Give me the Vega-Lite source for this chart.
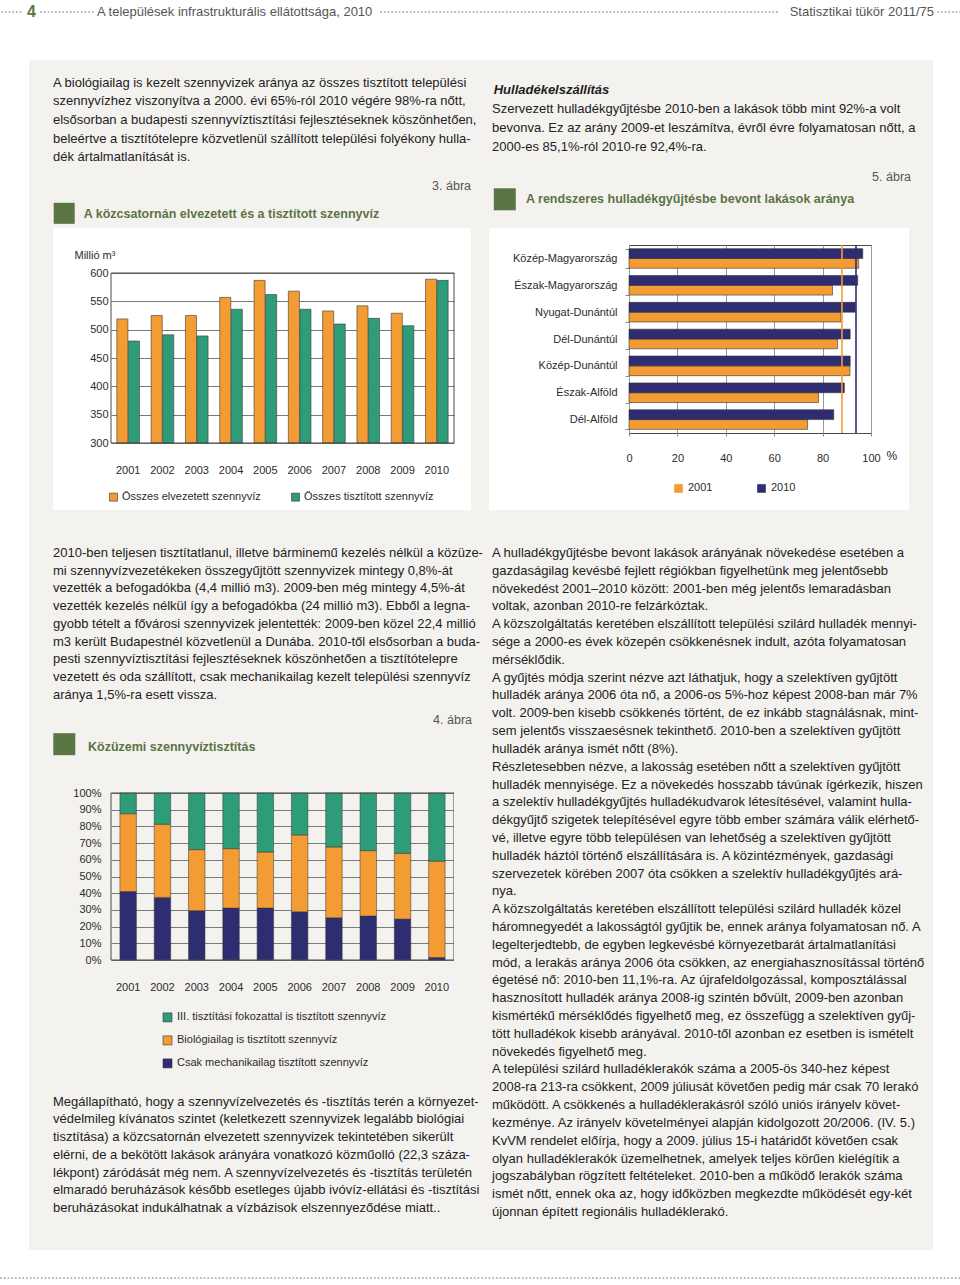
{
"$schema":"https://vega.github.io/schema/vega-lite/v6.json",
"background":"#ffffff",
"padding":0,
"autosize":{"type":"pad"},
"columns":11,
"align":"each",
"bounds":"flush",
"spacing":0,
"resolve":{"scale":{"color":"independent","xOffset":"independent","yOffset":"independent"}},
"datasets":{
"wastewater":[
{"year":"2001","series":"Összes elvezetett szennyvíz","value":519},{"year":"2001","series":"Összes tisztított szennyvíz","value":480},
{"year":"2002","series":"Összes elvezetett szennyvíz","value":525},{"year":"2002","series":"Összes tisztított szennyvíz","value":491},
{"year":"2003","series":"Összes elvezetett szennyvíz","value":525},{"year":"2003","series":"Összes tisztított szennyvíz","value":489},
{"year":"2004","series":"Összes elvezetett szennyvíz","value":557},{"year":"2004","series":"Összes tisztított szennyvíz","value":536},
{"year":"2005","series":"Összes elvezetett szennyvíz","value":587},{"year":"2005","series":"Összes tisztított szennyvíz","value":562},
{"year":"2006","series":"Összes elvezetett szennyvíz","value":568},{"year":"2006","series":"Összes tisztított szennyvíz","value":536},
{"year":"2007","series":"Összes elvezetett szennyvíz","value":533},{"year":"2007","series":"Összes tisztított szennyvíz","value":510},
{"year":"2008","series":"Összes elvezetett szennyvíz","value":542},{"year":"2008","series":"Összes tisztított szennyvíz","value":520},
{"year":"2009","series":"Összes elvezetett szennyvíz","value":529},{"year":"2009","series":"Összes tisztított szennyvíz","value":507},
{"year":"2010","series":"Összes elvezetett szennyvíz","value":589},{"year":"2010","series":"Összes tisztított szennyvíz","value":587}
],
"households":[
{"region":"Közép-Magyarország","year":"2001","value":94.9},{"region":"Közép-Magyarország","year":"2010","value":96.6},
{"region":"Észak-Magyarország","year":"2001","value":84.1},{"region":"Észak-Magyarország","year":"2010","value":94.5},
{"region":"Nyugat-Dunántúl","year":"2001","value":87.6},{"region":"Nyugat-Dunántúl","year":"2010","value":93.5},
{"region":"Dél-Dunántúl","year":"2001","value":86.2},{"region":"Dél-Dunántúl","year":"2010","value":91.4},
{"region":"Közép-Dunántúl","year":"2001","value":91.3},{"region":"Közép-Dunántúl","year":"2010","value":91.4},
{"region":"Észak-Alföld","year":"2001","value":78.3},{"region":"Észak-Alföld","year":"2010","value":89.0},
{"region":"Dél-Alföld","year":"2001","value":73.8},{"region":"Dél-Alföld","year":"2010","value":84.6}
],
"national":[{"year":"2001","value":88.0},{"year":"2010","value":93.8}],
"treatment":[
{"year":"2001","level":1,"type":"Csak mechanikailag tisztított szennyvíz","share":41.0},{"year":"2001","level":2,"type":"Biológiailag is tisztított szennyvíz","share":46.6},{"year":"2001","level":3,"type":"III. tisztítási fokozattal is tisztított szennyvíz","share":12.4},
{"year":"2002","level":1,"type":"Csak mechanikailag tisztított szennyvíz","share":37.5},{"year":"2002","level":2,"type":"Biológiailag is tisztított szennyvíz","share":43.8},{"year":"2002","level":3,"type":"III. tisztítási fokozattal is tisztított szennyvíz","share":18.7},
{"year":"2003","level":1,"type":"Csak mechanikailag tisztított szennyvíz","share":29.5},{"year":"2003","level":2,"type":"Biológiailag is tisztított szennyvíz","share":36.6},{"year":"2003","level":3,"type":"III. tisztítási fokozattal is tisztított szennyvíz","share":33.9},
{"year":"2004","level":1,"type":"Csak mechanikailag tisztított szennyvíz","share":31.1},{"year":"2004","level":2,"type":"Biológiailag is tisztított szennyvíz","share":35.6},{"year":"2004","level":3,"type":"III. tisztítási fokozattal is tisztított szennyvíz","share":33.3},
{"year":"2005","level":1,"type":"Csak mechanikailag tisztított szennyvíz","share":31.1},{"year":"2005","level":2,"type":"Biológiailag is tisztított szennyvíz","share":33.6},{"year":"2005","level":3,"type":"III. tisztítási fokozattal is tisztított szennyvíz","share":35.3},
{"year":"2006","level":1,"type":"Csak mechanikailag tisztított szennyvíz","share":28.9},{"year":"2006","level":2,"type":"Biológiailag is tisztított szennyvíz","share":46.0},{"year":"2006","level":3,"type":"III. tisztítási fokozattal is tisztított szennyvíz","share":25.1},
{"year":"2007","level":1,"type":"Csak mechanikailag tisztított szennyvíz","share":25.3},{"year":"2007","level":2,"type":"Biológiailag is tisztított szennyvíz","share":42.4},{"year":"2007","level":3,"type":"III. tisztítási fokozattal is tisztított szennyvíz","share":32.3},
{"year":"2008","level":1,"type":"Csak mechanikailag tisztított szennyvíz","share":26.3},{"year":"2008","level":2,"type":"Biológiailag is tisztított szennyvíz","share":39.2},{"year":"2008","level":3,"type":"III. tisztítási fokozattal is tisztított szennyvíz","share":34.5},
{"year":"2009","level":1,"type":"Csak mechanikailag tisztított szennyvíz","share":24.5},{"year":"2009","level":2,"type":"Biológiailag is tisztított szennyvíz","share":39.4},{"year":"2009","level":3,"type":"III. tisztítási fokozattal is tisztított szennyvíz","share":36.1},
{"year":"2010","level":1,"type":"Csak mechanikailag tisztított szennyvíz","share":1.5},{"year":"2010","level":2,"type":"Biológiailag is tisztított szennyvíz","share":57.7},{"year":"2010","level":3,"type":"III. tisztítási fokozattal is tisztított szennyvíz","share":40.8}
],
"p1":[
{"i":1,"t":"A biológiailag is kezelt szennyvizek aránya az összes tisztított települési"},
{"i":2,"t":"szennyvízhez viszonyítva a 2000. évi 65%-ról 2010 végére 98%-ra nőtt,"},
{"i":3,"t":"elsősorban a budapesti szennyvíztisztítási fejlesztéseknek köszönhetően,"},
{"i":4,"t":"beleértve a tisztítótelepre közvetlenül szállított települési folyékony hulla-"},
{"i":5,"t":"dék ártalmatlanítását is."}
],
"pr1":[
{"i":1,"t":"Szervezett hulladékgyűjtésbe 2010-ben a lakások több mint 92%-a volt"},
{"i":2,"t":"bevonva. Ez az arány 2009-et leszámítva, évről évre folyamatosan nőtt, a"},
{"i":3,"t":"2000-es 85,1%-ról 2010-re 92,4%-ra."}
],
"p2":[
{"i":1,"t":"2010-ben teljesen tisztítatlanul, illetve bárminemű kezelés nélkül a közüze-"},
{"i":2,"t":"mi szennyvízvezetékeken összegyűjtött szennyvizek mintegy 0,8%-át"},
{"i":3,"t":"vezették a befogadókba (4,4 millió m3). 2009-ben még mintegy 4,5%-át"},
{"i":4,"t":"vezették kezelés nélkül így a befogadókba (24 millió m3). Ebből a legna-"},
{"i":5,"t":"gyobb tételt a fővárosi szennyvizek jelentették: 2009-ben közel 22,4 millió"},
{"i":6,"t":"m3 került Budapestnél közvetlenül a Dunába. 2010-től elsősorban a buda-"},
{"i":7,"t":"pesti szennyvíztisztítási fejlesztéseknek köszönhetően a tisztítótelepre"},
{"i":8,"t":"vezetett és oda szállított, csak mechanikailag kezelt települési szennyvíz"},
{"i":9,"t":"aránya 1,5%-ra esett vissza."}
],
"p3":[
{"i":1,"t":"Megállapítható, hogy a szennyvízelvezetés és -tisztítás terén a környezet-"},
{"i":2,"t":"védelmileg kívánatos szintet (keletkezett szennyvizek legalább biológiai"},
{"i":3,"t":"tisztítása) a közcsatornán elvezetett szennyvizek tekintetében sikerült"},
{"i":4,"t":"elérni, de a bekötött lakások arányára vonatkozó közműolló (22,3 száza-"},
{"i":5,"t":"lékpont) záródását még nem. A szennyvízelvezetés és -tisztítás területén"},
{"i":6,"t":"elmaradó beruházások később esetleges újabb ivóvíz-ellátási és -tisztítási"},
{"i":7,"t":"beruházásokat indukálhatnak a vízbázisok elszennyeződése miatt.."}
],
"pr2":[
{"i":1,"t":"A hulladékgyűjtésbe bevont lakások arányának növekedése esetében a"},
{"i":2,"t":"gazdaságilag kevésbé fejlett régiókban figyelhetünk meg jelentősebb"},
{"i":3,"t":"növekedést 2001–2010 között: 2001-ben még jelentős lemaradásban"},
{"i":4,"t":"voltak, azonban 2010-re felzárkóztak."},
{"i":5,"t":"A közszolgáltatás keretében elszállított települési szilárd hulladék mennyi-"},
{"i":6,"t":"sége a 2000-es évek közepén csökkenésnek indult, azóta folyamatosan"},
{"i":7,"t":"mérséklődik."},
{"i":8,"t":"A gyűjtés módja szerint nézve azt láthatjuk, hogy a szelektíven gyűjtött"},
{"i":9,"t":"hulladék aránya 2006 óta nő, a 2006-os 5%-hoz képest 2008-ban már 7%"},
{"i":10,"t":"volt. 2009-ben kisebb csökkenés történt, de ez inkább stagnálásnak, mint-"},
{"i":11,"t":"sem jelentős visszaesésnek tekinthető. 2010-ben a szelektíven gyűjtött"},
{"i":12,"t":"hulladék aránya ismét nőtt (8%)."},
{"i":13,"t":"Részletesebben nézve, a lakosság esetében nőtt a szelektíven gyűjtött"},
{"i":14,"t":"hulladék mennyisége. Ez a növekedés hosszabb távúnak ígérkezik, hiszen"},
{"i":15,"t":"a szelektív hulladékgyűjtés hulladékudvarok létesítésével, valamint hulla-"},
{"i":16,"t":"dékgyűjtő szigetek telepítésével egyre több ember számára válik elérhető-"},
{"i":17,"t":"vé, illetve egyre több településen van lehetőség a szelektíven gyűjtött"},
{"i":18,"t":"hulladék háztól történő elszállítására is. A közintézmények, gazdasági"},
{"i":19,"t":"szervezetek körében 2007 óta csökken a szelektív hulladékgyűjtés ará-"},
{"i":20,"t":"nya."},
{"i":21,"t":"A közszolgáltatás keretében elszállított települési szilárd hulladék közel"},
{"i":22,"t":"háromnegyedét a lakosságtól gyűjtik be, ennek aránya folyamatosan nő. A"},
{"i":23,"t":"legelterjedtebb, de egyben legkevésbé környezetbarát ártalmatlanítási"},
{"i":24,"t":"mód, a lerakás aránya 2006 óta csökken, az energiahasznosítással történő"},
{"i":25,"t":"égetésé nő: 2010-ben 11,1%-ra. Az újrafeldolgozással, komposztálással"},
{"i":26,"t":"hasznosított hulladék aránya 2008-ig szintén bővült, 2009-ben azonban"},
{"i":27,"t":"kismértékű mérséklődés figyelhető meg, ez összefügg a szelektíven gyűj-"},
{"i":28,"t":"tött hulladékok kisebb arányával. 2010-től azonban ez esetben is ismételt"},
{"i":29,"t":"növekedés figyelhető meg."},
{"i":30,"t":"A települési szilárd hulladéklerakók száma a 2005-ös 340-hez képest"},
{"i":31,"t":"2008-ra 213-ra csökkent, 2009 júliusát követően pedig már csak 70 lerakó"},
{"i":32,"t":"működött. A csökkenés a hulladéklerakásról szóló uniós irányelv követ-"},
{"i":33,"t":"kezménye. Az irányelv követelményei alapján kidolgozott 20/2006. (IV. 5.)"},
{"i":34,"t":"KvVM rendelet előírja, hogy a 2009. július 15-i határidőt követően csak"},
{"i":35,"t":"olyan hulladéklerakók üzemelhetnek, amelyek teljes körűen kielégítik a"},
{"i":36,"t":"jogszabályban rögzített feltételeket. 2010-ben a működő lerakók száma"},
{"i":37,"t":"ismét nőtt, ennek oka az, hogy időközben megkezdte működését egy-két"},
{"i":38,"t":"újonnan épített regionális hulladéklerakó."}
]
},
"concat":[
{"width":28,"height":60,"data":{"values":[{}]},"mark":"text","encoding":{"text":{"value":""}}},
{"width":24,"height":60,"data":{"values":[{}]},"mark":"text","encoding":{"text":{"value":""}}},
{"width":58,"height":60,"data":{"values":[{}]},"mark":"text","encoding":{"text":{"value":""}}},
{"width":343,"height":60,"data":{"values":[{}]},"mark":"text","encoding":{"text":{"value":""}}},
{"width":17,"height":60,"data":{"values":[{}]},"mark":"text","encoding":{"text":{"value":""}}},
{"width":18,"height":60,"data":{"values":[{}]},"mark":"text","encoding":{"text":{"value":""}}},
{"width":140,"height":60,"data":{"values":[{}]},"mark":"text","encoding":{"text":{"value":""}}},
{"width":242,"height":60,"data":{"values":[{}]},"mark":"text","encoding":{"text":{"value":""}}},
{"width":38,"height":60,"data":{"values":[{}]},"mark":"text","encoding":{"text":{"value":""}}},
{"width":24,"height":60,"data":{"values":[{}]},"mark":"text","encoding":{"text":{"value":""}}},
{"width":28,"height":60,"data":{"values":[{"page":"4","running":"A települések infrastrukturális ellátottsága, 2010","issue":"Statisztikai tükör 2011/75"}]},"layer":[
 {"mark":{"type":"rule","color":"#b3b3b3","strokeWidth":2,"strokeDash":[0.1,3.6],"strokeCap":"round"},"encoding":{"x":{"datum":-931,"type":"quantitative","scale":{"domain":[0,28],"nice":false,"zero":false},"axis":null},"x2":{"datum":-910},"y":{"datum":12,"type":"quantitative","scale":{"domain":[0,60],"reverse":true,"nice":false,"zero":false},"axis":null}}},
 {"mark":{"type":"rule","color":"#b3b3b3","strokeWidth":2,"strokeDash":[0.1,3.6],"strokeCap":"round"},"encoding":{"x":{"datum":-892,"type":"quantitative","scale":{"domain":[0,28],"nice":false,"zero":false},"axis":null},"x2":{"datum":-840},"y":{"datum":12,"type":"quantitative","scale":{"domain":[0,60],"reverse":true,"nice":false,"zero":false},"axis":null}}},
 {"mark":{"type":"rule","color":"#b3b3b3","strokeWidth":2,"strokeDash":[0.1,3.6],"strokeCap":"round"},"encoding":{"x":{"datum":-552,"type":"quantitative","scale":{"domain":[0,28],"nice":false,"zero":false},"axis":null},"x2":{"datum":-154},"y":{"datum":12,"type":"quantitative","scale":{"domain":[0,60],"reverse":true,"nice":false,"zero":false},"axis":null}}},
 {"mark":{"type":"rule","color":"#b3b3b3","strokeWidth":2,"strokeDash":[0.1,3.6],"strokeCap":"round"},"encoding":{"x":{"datum":5,"type":"quantitative","scale":{"domain":[0,28],"nice":false,"zero":false},"axis":null},"x2":{"datum":28},"y":{"datum":12,"type":"quantitative","scale":{"domain":[0,60],"reverse":true,"nice":false,"zero":false},"axis":null}}},
 {"mark":{"type":"text","align":"left","baseline":"middle","font":"Liberation Sans","fontSize":16,"fontWeight":"bold","color":"#5b7443"},"encoding":{"x":{"datum":-906,"type":"quantitative","scale":{"domain":[0,28],"nice":false,"zero":false},"axis":null},"y":{"datum":12,"type":"quantitative","scale":{"domain":[0,60],"reverse":true,"nice":false,"zero":false},"axis":null},"text":{"field":"page"}}},
 {"mark":{"type":"text","align":"left","baseline":"middle","font":"Liberation Sans","fontSize":13,"color":"#555555"},"encoding":{"x":{"datum":-836,"type":"quantitative","scale":{"domain":[0,28],"nice":false,"zero":false},"axis":null},"y":{"datum":12,"type":"quantitative","scale":{"domain":[0,60],"reverse":true,"nice":false,"zero":false},"axis":null},"text":{"field":"running"}}},
 {"mark":{"type":"text","align":"right","baseline":"middle","font":"Liberation Sans","fontSize":13,"color":"#555555"},"encoding":{"x":{"datum":1,"type":"quantitative","scale":{"domain":[0,28],"nice":false,"zero":false},"axis":null},"y":{"datum":12,"type":"quantitative","scale":{"domain":[0,60],"reverse":true,"nice":false,"zero":false},"axis":null},"text":{"field":"issue"}}}
]},

{"width":28,"height":168,"data":{"values":[{}]},"mark":"text","encoding":{"text":{"value":""}}},
{"width":24,"height":168,"view":{"fill":"#f4f2ef"},"data":{"values":[{}]},"mark":"text","encoding":{"text":{"value":""}}},
{"width":58,"height":168,"view":{"fill":"#f4f2ef"},"data":{"values":[{}]},"mark":"text","encoding":{"text":{"value":""}}},
{"width":343,"height":168,"view":{"fill":"#f4f2ef"},"data":{"values":[{}]},"mark":"text","encoding":{"text":{"value":""}}},
{"width":17,"height":168,"view":{"fill":"#f4f2ef"},"data":{"values":[{}]},"mark":"text","encoding":{"text":{"value":""}}},
{"width":18,"height":168,"view":{"fill":"#f4f2ef"},"layer":[
 {"data":{"name":"p1"},"mark":{"type":"text","align":"left","baseline":"middle"},"encoding":{"x":{"datum":-418,"type":"quantitative","scale":{"domain":[0,18],"nice":false,"zero":false},"axis":null},"y":{"field":"i","type":"quantitative","scale":{"domain":[-0.2172,8.7908],"reverse":true,"nice":false,"zero":false},"axis":null},"text":{"field":"t"}}},
 {"data":{"values":[{"fig":"3. ábra"}]},"mark":{"type":"text","align":"right","baseline":"middle","font":"Liberation Sans","fontSize":12.5,"color":"#555555"},"encoding":{"x":{"datum":0,"type":"quantitative","scale":{"domain":[0,18],"nice":false,"zero":false},"axis":null},"y":{"datum":6.5388,"type":"quantitative","scale":{"domain":[-0.2172,8.7908],"reverse":true,"nice":false,"zero":false},"axis":null},"text":{"field":"fig"}}},
 {"data":{"values":[{}]},"mark":{"type":"square","size":441,"opacity":1,"color":"#5b7443"},"encoding":{"x":{"datum":-406.8,"type":"quantitative","scale":{"domain":[0,18],"nice":false,"zero":false},"axis":null},"y":{"datum":8.0026,"type":"quantitative","scale":{"domain":[-0.2172,8.7908],"reverse":true,"nice":false,"zero":false},"axis":null}}},
 {"data":{"values":[{"title":"A közcsatornán elvezetett és a tisztított szennyvíz"}]},"mark":{"type":"text","align":"left","baseline":"middle","font":"Liberation Sans","fontSize":12.5,"fontWeight":"bold","color":"#5b7443"},"encoding":{"x":{"datum":-387.3,"type":"quantitative","scale":{"domain":[0,18],"nice":false,"zero":false},"axis":null},"y":{"datum":8.0402,"type":"quantitative","scale":{"domain":[-0.2172,8.7908],"reverse":true,"nice":false,"zero":false},"axis":null},"text":{"field":"title"}}}
]},
{"width":140,"height":168,"view":{"fill":"#f4f2ef"},"data":{"values":[{}]},"mark":"text","encoding":{"text":{"value":""}}},
{"width":242,"height":168,"view":{"fill":"#f4f2ef"},"data":{"values":[{}]},"mark":"text","encoding":{"text":{"value":""}}},
{"width":38,"height":168,"view":{"fill":"#f4f2ef"},"data":{"values":[{}]},"mark":"text","encoding":{"text":{"value":""}}},
{"width":24,"height":168,"view":{"fill":"#f4f2ef"},"layer":[
 {"data":{"name":"pr1"},"mark":{"type":"text","align":"left","baseline":"middle"},"encoding":{"x":{"datum":-417,"type":"quantitative","scale":{"domain":[0,24],"nice":false,"zero":false},"axis":null},"y":{"field":"i","type":"quantitative","scale":{"domain":[-1.5947,7.2474],"reverse":true,"nice":false,"zero":false},"axis":null},"text":{"field":"t"}}},
 {"data":{"values":[{"t":"Hulladékelszállítás"}]},"mark":{"type":"text","align":"left","baseline":"middle","font":"Liberation Sans","fontSize":13,"fontWeight":"bold","fontStyle":"italic","color":"#1e1e1e"},"encoding":{"x":{"datum":-415.3,"type":"quantitative","scale":{"domain":[0,24],"nice":false,"zero":false},"axis":null},"y":{"datum":0,"type":"quantitative","scale":{"domain":[-1.5947,7.2474],"reverse":true,"nice":false,"zero":false},"axis":null},"text":{"field":"t"}}},
 {"data":{"values":[{"fig":"5. ábra"}]},"mark":{"type":"text","align":"right","baseline":"middle","font":"Liberation Sans","fontSize":12.5,"color":"#555555"},"encoding":{"x":{"datum":2,"type":"quantitative","scale":{"domain":[0,24],"nice":false,"zero":false},"axis":null},"y":{"datum":4.5474,"type":"quantitative","scale":{"domain":[-1.5947,7.2474],"reverse":true,"nice":false,"zero":false},"axis":null},"text":{"field":"fig"}}},
 {"data":{"values":[{}]},"mark":{"type":"square","size":484,"opacity":1,"color":"#5b7443"},"encoding":{"x":{"datum":-404.2,"type":"quantitative","scale":{"domain":[0,24],"nice":false,"zero":false},"axis":null},"y":{"datum":5.7369,"type":"quantitative","scale":{"domain":[-1.5947,7.2474],"reverse":true,"nice":false,"zero":false},"axis":null}}},
 {"data":{"values":[{"title":"A rendszeres hulladékgyűjtésbe bevont lakások aránya"}]},"mark":{"type":"text","align":"left","baseline":"middle","font":"Liberation Sans","fontSize":12.5,"fontWeight":"bold","color":"#5b7443"},"encoding":{"x":{"datum":-383,"type":"quantitative","scale":{"domain":[0,24],"nice":false,"zero":false},"axis":null},"y":{"datum":5.7369,"type":"quantitative","scale":{"domain":[-1.5947,7.2474],"reverse":true,"nice":false,"zero":false},"axis":null},"text":{"field":"title"}}}
]},
{"width":28,"height":168,"data":{"values":[{}]},"mark":"text","encoding":{"text":{"value":""}}},

{"width":28,"height":17,"data":{"values":[{}]},"mark":"text","encoding":{"text":{"value":""}}},
{"width":24,"height":17,"view":{"fill":"#f4f2ef"},"data":{"values":[{}]},"mark":"text","encoding":{"text":{"value":""}}},
{"width":58,"height":17,"data":{"values":[{}]},"mark":"text","encoding":{"text":{"value":""}}},
{"width":343,"height":17,"data":{"values":[{}]},"mark":"text","encoding":{"text":{"value":""}}},
{"width":17,"height":17,"data":{"values":[{}]},"mark":"text","encoding":{"text":{"value":""}}},
{"width":18,"height":17,"view":{"fill":"#f4f2ef"},"data":{"values":[{}]},"mark":"text","encoding":{"text":{"value":""}}},
{"width":140,"height":17,"data":{"values":[{}]},"mark":"text","encoding":{"text":{"value":""}}},
{"width":242,"height":17,"data":{"values":[{}]},"mark":"text","encoding":{"text":{"value":""}}},
{"width":38,"height":17,"data":{"values":[{}]},"mark":"text","encoding":{"text":{"value":""}}},
{"width":24,"height":17,"view":{"fill":"#f4f2ef"},"data":{"values":[{}]},"mark":"text","encoding":{"text":{"value":""}}},
{"width":28,"height":17,"data":{"values":[{}]},"mark":"text","encoding":{"text":{"value":""}}},

{"width":28,"height":198,"data":{"values":[{}]},"mark":"text","encoding":{"text":{"value":""}}},
{"width":24,"height":198,"view":{"fill":"#f4f2ef"},"data":{"values":[{}]},"mark":"text","encoding":{"text":{"value":""}}},
{"width":58,"height":198,"data":{"values":[{}]},"mark":"text","encoding":{"text":{"value":""}}},
{"width":343,"height":198,"layer":[
 {"data":{"name":"wastewater"},"mark":{"type":"bar","stroke":"#3a3a3a","strokeWidth":0.6},
  "encoding":{
   "x":{"field":"year","type":"ordinal","scale":{"paddingInner":0.34,"paddingOuter":0.17},"axis":{"title":null,"labelAngle":0,"tickSize":0,"domain":false,"labelPadding":21,"grid":false}},
   "xOffset":{"field":"series","type":"nominal","scale":{"domain":["Összes elvezetett szennyvíz","Összes tisztított szennyvíz"],"paddingInner":0.04}},
   "y":{"field":"value","type":"quantitative","scale":{"domain":[300,600],"range":[198,28],"nice":false,"zero":false},"axis":{"values":[300,350,400,450,500,550,600],"labelOverlap":false,"title":"Millió m³","titleAngle":0,"titleAlign":"left","titleBaseline":"middle","titleX":-37,"titleY":10,"tickSize":0,"labelPadding":3,"domain":false,"grid":true,"gridColor":"#7a7a7a","gridWidth":1}},
   "y2":{"datum":300},
   "color":{"field":"series","type":"nominal","scale":{"domain":["Összes elvezetett szennyvíz","Összes tisztított szennyvíz"],"range":["#F39C33","#2E9C78"]},"legend":{"orient":"none","legendX":-3,"legendY":246.5,"direction":"horizontal","columns":2,"columnPadding":29,"symbolSize":64,"labelOffset":3,"title":null}}
  }},
 {"data":{"values":[{}]},"mark":{"type":"rect","fillOpacity":0,"stroke":"#4a4a4a","strokeWidth":1},"encoding":{"y":{"datum":300,"type":"quantitative","axis":{"values":[300,350,400,450,500,550,600],"labelOverlap":false,"title":"Millió m³","titleAngle":0,"titleAlign":"left","titleBaseline":"middle","titleX":-37,"titleY":10,"tickSize":0,"labelPadding":3,"domain":false,"grid":true,"gridColor":"#7a7a7a","gridWidth":1}},"y2":{"datum":600}}}
]},
{"width":17,"height":198,"data":{"values":[{}]},"mark":"text","encoding":{"text":{"value":""}}},
{"width":18,"height":198,"view":{"fill":"#f4f2ef"},"data":{"values":[{}]},"mark":"text","encoding":{"text":{"value":""}}},
{"width":140,"height":198,"data":{"values":[{}]},"mark":"text","encoding":{"text":{"value":""}}},
{"width":242,"height":188,"view":{"stroke":"#4a4a4a","strokeWidth":1},"layer":[
 {"data":{"name":"households"},"mark":{"type":"bar","stroke":"#333333","strokeWidth":0.6},
  "encoding":{
   "y":{"field":"region","type":"nominal","sort":["Közép-Magyarország","Észak-Magyarország","Nyugat-Dunántúl","Dél-Dunántúl","Közép-Dunántúl","Észak-Alföld","Dél-Alföld"],"scale":{"paddingInner":0.27,"paddingOuter":0.135},"axis":{"title":null,"tickBand":"extent","tickSize":4,"tickColor":"#8a8a8a","labelPadding":8,"domain":false}},
   "yOffset":{"field":"year","type":"nominal","scale":{"domain":["2010","2001"],"paddingInner":0}},
   "x":{"field":"value","type":"quantitative","scale":{"domain":[0,100],"nice":false},"axis":{"values":[0,20,40,60,80,100],"labelFlush":false,"grid":true,"gridColor":"#9a9a9a","tickSize":3,"tickColor":"#8a8a8a","labelPadding":16,"domain":false,"title":"%","titleX":257,"titleY":22,"titleAlign":"left","titleBaseline":"middle","titleFontSize":12}},
   "color":{"field":"year","type":"nominal","scale":{"domain":["2001","2010"],"range":["#F39C33","#2E2D72"]},"legend":{"orient":"none","legendX":44,"legendY":237.8,"direction":"horizontal","columns":2,"columnPadding":43,"symbolSize":64,"title":null}}
  }},
 {"data":{"name":"national"},"mark":{"type":"rule","strokeWidth":1.6},"encoding":{"x":{"field":"value","type":"quantitative"},"color":{"field":"year","type":"nominal"}}}
]},
{"width":38,"height":198,"data":{"values":[{}]},"mark":"text","encoding":{"text":{"value":""}}},
{"width":24,"height":198,"view":{"fill":"#f4f2ef"},"data":{"values":[{}]},"mark":"text","encoding":{"text":{"value":""}}},
{"width":28,"height":198,"data":{"values":[{}]},"mark":"text","encoding":{"text":{"value":""}}},

{"width":28,"height":67,"data":{"values":[{}]},"mark":"text","encoding":{"text":{"value":""}}},
{"width":24,"height":67,"view":{"fill":"#f4f2ef"},"data":{"values":[{}]},"mark":"text","encoding":{"text":{"value":""}}},
{"width":58,"height":67,"data":{"values":[{}]},"mark":"text","encoding":{"text":{"value":""}}},
{"width":343,"height":67,"data":{"values":[{}]},"mark":"text","encoding":{"text":{"value":""}}},
{"width":17,"height":67,"data":{"values":[{}]},"mark":"text","encoding":{"text":{"value":""}}},
{"width":18,"height":67,"view":{"fill":"#f4f2ef"},"data":{"values":[{}]},"mark":"text","encoding":{"text":{"value":""}}},
{"width":140,"height":67,"data":{"values":[{}]},"mark":"text","encoding":{"text":{"value":""}}},
{"width":242,"height":67,"data":{"values":[{}]},"mark":"text","encoding":{"text":{"value":""}}},
{"width":38,"height":67,"data":{"values":[{}]},"mark":"text","encoding":{"text":{"value":""}}},
{"width":24,"height":67,"view":{"fill":"#f4f2ef"},"data":{"values":[{}]},"mark":"text","encoding":{"text":{"value":""}}},
{"width":28,"height":67,"data":{"values":[{}]},"mark":"text","encoding":{"text":{"value":""}}},

{"width":28,"height":740,"data":{"values":[{}]},"mark":"text","encoding":{"text":{"value":""}}},
{"width":24,"height":740,"view":{"fill":"#f4f2ef"},"data":{"values":[{}]},"mark":"text","encoding":{"text":{"value":""}}},
{"width":58,"height":740,"view":{"fill":"#f4f2ef"},"data":{"values":[{}]},"mark":"text","encoding":{"text":{"value":""}}},
{"width":343,"height":740,"view":{"fill":"#f4f2ef"},"layer":[
 {"data":{"name":"treatment"},"mark":{"type":"bar","stroke":"#333333","strokeWidth":0.5},
  "encoding":{
   "x":{"field":"year","type":"ordinal","scale":{"paddingInner":0.52,"paddingOuter":0.26},"axis":{"title":null,"labelAngle":0,"tickSize":0,"labelPadding":21,"domain":false,"offset":-290}},
   "y":{"field":"share","type":"quantitative","stack":"zero","scale":{"domain":[0,100],"range":[450,283],"nice":false},"axis":{"values":[0,10,20,30,40,50,60,70,80,90,100],"labelOverlap":false,"labelExpr":"datum.value + '%'","title":null,"tickSize":0,"labelPadding":10,"domain":false,"grid":true,"gridColor":"#7a7a7a"}},
   "color":{"field":"type","type":"nominal","scale":{"domain":["III. tisztítási fokozattal is tisztított szennyvíz","Biológiailag is tisztított szennyvíz","Csak mechanikailag tisztított szennyvíz"],"range":["#2E9C78","#F39C33","#2E2D72"]},"legend":{"orient":"none","legendX":51,"legendY":501.9,"direction":"vertical","symbolSize":81,"rowPadding":10,"title":null}},
   "order":{"field":"level","type":"quantitative","sort":"ascending"}
  }},
 {"data":{"values":[{}]},"mark":{"type":"rect","fillOpacity":0,"stroke":"#4a4a4a","strokeWidth":1},"encoding":{"y":{"datum":0,"type":"quantitative","axis":{"values":[0,10,20,30,40,50,60,70,80,90,100],"labelOverlap":false,"labelExpr":"datum.value + '%'","title":null,"tickSize":0,"labelPadding":10,"domain":false,"grid":true,"gridColor":"#7a7a7a"}},"y2":{"datum":100}}}
]},
{"width":17,"height":740,"view":{"fill":"#f4f2ef"},"data":{"values":[{}]},"mark":"text","encoding":{"text":{"value":""}}},
{"width":18,"height":740,"view":{"fill":"#f4f2ef"},"resolve":{"scale":{"y":"independent"}},"layer":[
 {"data":{"name":"p2"},"mark":{"type":"text","align":"left","baseline":"middle"},"encoding":{"x":{"datum":-418,"type":"quantitative","scale":{"domain":[0,18],"nice":false,"zero":false},"axis":null},"y":{"field":"i","type":"quantitative","scale":{"domain":[-1.4294,40.3785],"reverse":true,"nice":false,"zero":false},"axis":null},"text":{"field":"t"}}},
 {"data":{"values":[{"fig":"4. ábra"}]},"mark":{"type":"text","align":"right","baseline":"middle","font":"Liberation Sans","fontSize":12.5,"color":"#555555"},"encoding":{"x":{"datum":1,"type":"quantitative","scale":{"domain":[0,18],"nice":false,"zero":false},"axis":null},"y":{"datum":10.435,"type":"quantitative","scale":{"domain":[-1.4294,40.3785],"reverse":true,"nice":false,"zero":false},"axis":null},"text":{"field":"fig"}}},
 {"data":{"values":[{}]},"mark":{"type":"square","size":484,"opacity":1,"color":"#5b7443"},"encoding":{"x":{"datum":-406.7,"type":"quantitative","scale":{"domain":[0,18],"nice":false,"zero":false},"axis":null},"y":{"datum":11.8022,"type":"quantitative","scale":{"domain":[-1.4294,40.3785],"reverse":true,"nice":false,"zero":false},"axis":null}}},
 {"data":{"values":[{"title":"Közüzemi szennyvíztisztítás"}]},"mark":{"type":"text","align":"left","baseline":"middle","font":"Liberation Sans","fontSize":12.5,"fontWeight":"bold","color":"#5b7443"},"encoding":{"x":{"datum":-383,"type":"quantitative","scale":{"domain":[0,18],"nice":false,"zero":false},"axis":null},"y":{"datum":11.9322,"type":"quantitative","scale":{"domain":[-1.4294,40.3785],"reverse":true,"nice":false,"zero":false},"axis":null},"text":{"field":"title"}}},
 {"data":{"name":"p3"},"mark":{"type":"text","align":"left","baseline":"middle"},"encoding":{"x":{"datum":-418,"type":"quantitative","scale":{"domain":[0,18],"nice":false,"zero":false},"axis":null},"y":{"field":"i","type":"quantitative","scale":{"domain":[-32.4294,9.3785],"reverse":true,"nice":false,"zero":false},"axis":null},"text":{"field":"t"}}}
]},
{"width":140,"height":740,"view":{"fill":"#f4f2ef"},"data":{"values":[{}]},"mark":"text","encoding":{"text":{"value":""}}},
{"width":242,"height":740,"view":{"fill":"#f4f2ef"},"data":{"values":[{}]},"mark":"text","encoding":{"text":{"value":""}}},
{"width":38,"height":740,"view":{"fill":"#f4f2ef"},"data":{"values":[{}]},"mark":"text","encoding":{"text":{"value":""}}},
{"width":24,"height":740,"view":{"fill":"#f4f2ef"},"data":{"name":"pr2"},"mark":{"type":"text","align":"left","baseline":"middle"},"encoding":{"x":{"datum":-417,"type":"quantitative","scale":{"domain":[0,24],"nice":false,"zero":false},"axis":null},"y":{"field":"i","type":"quantitative","scale":{"domain":[-1.4144,40.1353],"reverse":true,"nice":false,"zero":false},"axis":null},"text":{"field":"t"}}},
{"width":28,"height":740,"data":{"values":[{}]},"mark":"text","encoding":{"text":{"value":""}}},

{"width":28,"height":35,"data":{"values":[{}]},"mark":"text","encoding":{"text":{"value":""}}},
{"width":24,"height":35,"data":{"values":[{}]},"mark":"text","encoding":{"text":{"value":""}}},
{"width":58,"height":35,"data":{"values":[{}]},"mark":"text","encoding":{"text":{"value":""}}},
{"width":343,"height":35,"data":{"values":[{}]},"mark":"text","encoding":{"text":{"value":""}}},
{"width":17,"height":35,"data":{"values":[{}]},"mark":"text","encoding":{"text":{"value":""}}},
{"width":18,"height":35,"data":{"values":[{}]},"mark":"text","encoding":{"text":{"value":""}}},
{"width":140,"height":35,"data":{"values":[{}]},"mark":"text","encoding":{"text":{"value":""}}},
{"width":242,"height":35,"data":{"values":[{}]},"mark":"text","encoding":{"text":{"value":""}}},
{"width":38,"height":35,"data":{"values":[{}]},"mark":"text","encoding":{"text":{"value":""}}},
{"width":24,"height":35,"data":{"values":[{}]},"mark":"text","encoding":{"text":{"value":""}}},
{"width":28,"height":35,"data":{"values":[{}]},"mark":{"type":"rule","color":"#b3b3b3","strokeWidth":2,"strokeDash":[0.1,3.6],"strokeCap":"round"},"encoding":{"x":{"datum":-932,"type":"quantitative","scale":{"domain":[0,28],"nice":false,"zero":false},"axis":null},"x2":{"datum":28},"y":{"datum":28,"type":"quantitative","scale":{"domain":[0,35],"reverse":true,"nice":false,"zero":false},"axis":null}}}
],
"config":{
 "view":{"stroke":null},
 "font":"Liberation Sans",
 "text":{"font":"Liberation Sans","fontSize":13,"color":"#222222"},
 "axis":{"labelFont":"Liberation Sans","labelFontSize":11,"labelColor":"#2b2b2b","titleFont":"Liberation Sans","titleFontSize":11,"titleFontWeight":"normal","titleColor":"#2b2b2b"},
 "legend":{"labelFont":"Liberation Sans","labelFontSize":11,"labelColor":"#2b2b2b","padding":0,"symbolType":"square","symbolStrokeColor":"#333333","symbolStrokeWidth":0.6,"labelLimit":400,"labelOffset":4}
}
}
